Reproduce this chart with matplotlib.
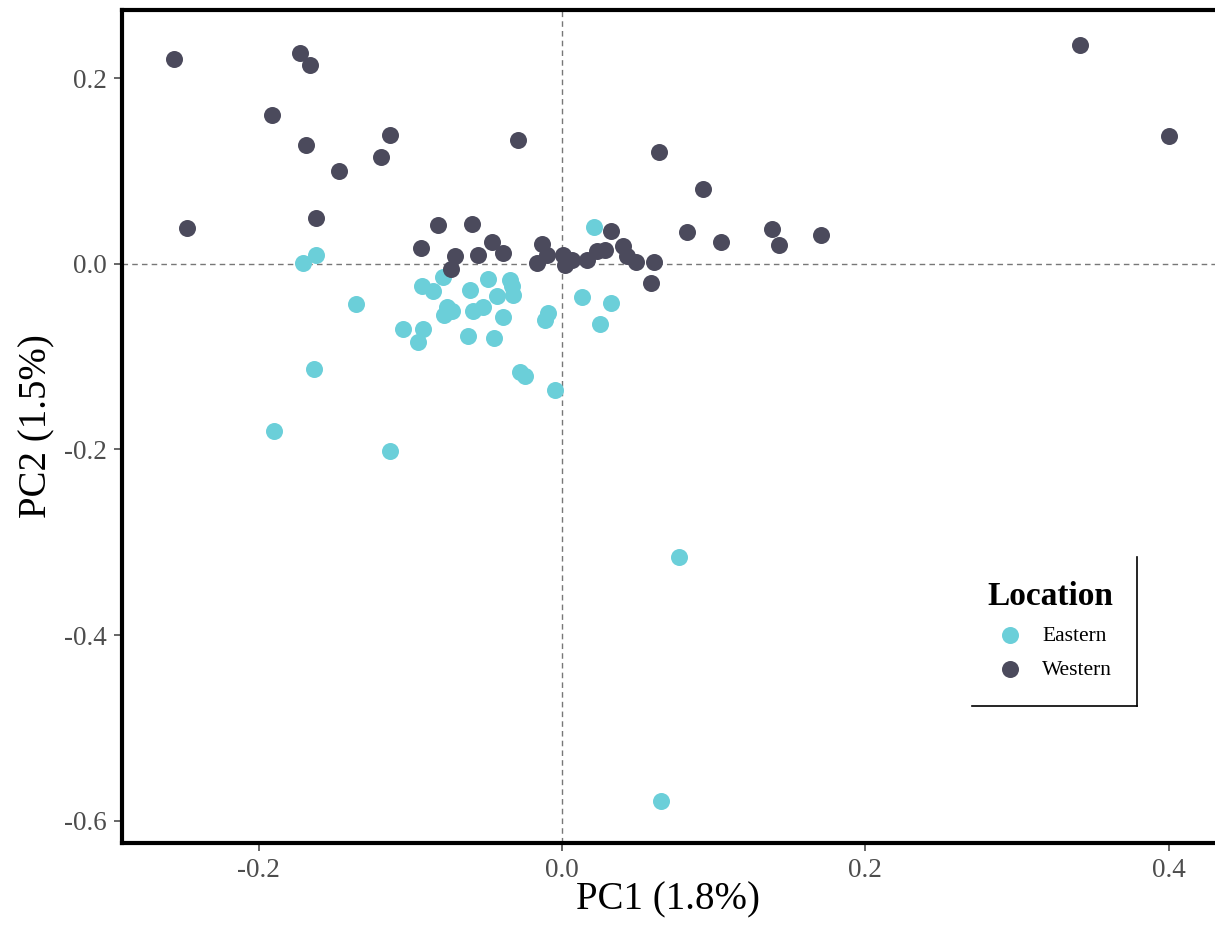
import matplotlib.pyplot as plt
from matplotlib.lines import Line2D

plt.rcParams["font.family"] = ["Liberation Serif", "DejaVu Serif"]

# PCA scores
western_pc1 = [-0.256, -0.1727, -0.166, -0.191, -0.169, -0.1134, -0.119, -0.147, -0.0288,
               -0.247, -0.1624, 0.3415, 0.400, 0.064, 0.0927, 0.0826, 0.1048, 0.1382, 0.143,
               0.1707, -0.082, -0.0595, -0.093, -0.0705, -0.073, -0.0556, -0.0463, -0.039,
               -0.0134, -0.010, -0.0167, 0.0009, 0.002, 0.0064, 0.0163, 0.0229, 0.0283,
               0.0323, 0.0404, 0.0426, 0.049, 0.061, 0.0585]
western_pc2 = [0.2205, 0.227, 0.2144, 0.160, 0.1275, 0.139, 0.1156, 0.1005, 0.1329,
               0.0385, 0.0492, 0.236, 0.138, 0.1204, 0.081, 0.034, 0.0234, 0.0374, 0.0205,
               0.031, 0.042, 0.043, 0.017, 0.0086, -0.0057, 0.0097, 0.024, 0.0115,
               0.0216, 0.0097, 0.0007, 0.0097, -0.001, 0.0043, 0.0043, 0.0133, 0.015,
               0.0356, 0.0187, 0.0079, 0.0025, 0.0025, -0.021]

eastern_pc1 = [0.0213, -0.162, -0.171, -0.1358, -0.0925, -0.0848, -0.0787, -0.076, -0.0727,
               -0.078, -0.105, -0.0914, -0.0947, -0.0606, -0.049, -0.0343, -0.033, -0.0325,
               -0.043, -0.052, -0.0585, -0.039, -0.062, -0.0448, -0.009, -0.0112, 0.013,
               0.0323, 0.025, -0.0277, -0.0244, -0.0046, -0.1635, -0.1896, -0.1134, 0.0771,
               0.065]
eastern_pc2 = [0.040, 0.0097, 0.0014, -0.043, -0.0244, -0.0298, -0.0143, -0.046, -0.051,
               -0.055, -0.070, -0.070, -0.0837, -0.028, -0.016, -0.0172, -0.0244, -0.0334,
               -0.035, -0.046, -0.051, -0.0568, -0.078, -0.080, -0.053, -0.060, -0.036,
               -0.0417, -0.0647, -0.117, -0.121, -0.136, -0.113, -0.180, -0.2015, -0.316,
               -0.579]

x_ticks = [-0.2, 0.0, 0.2, 0.4]
y_ticks = [0.2, 0.0, -0.2, -0.4, -0.6]

EAST_COLOR = "#6BCFD9"
WEST_COLOR = "#4B4A5C"

fig = plt.figure(figsize=(12.15, 9.32), dpi=100)
ax = fig.add_axes([0.1004, 0.0955, 0.8996, 0.894])

ax.axhline(0, color="#777777", lw=1, ls=(0, (4, 3)), zorder=1)
ax.axvline(0, color="#777777", lw=1, ls=(0, (4, 3)), zorder=1)

ax.scatter(eastern_pc1, eastern_pc2, s=150, color=EAST_COLOR, label="Eastern", zorder=3, lw=0)
ax.scatter(western_pc1, western_pc2, s=150, color=WEST_COLOR, label="Western", zorder=3, lw=0)

ax.set_xlim(-0.290, 0.4305)
ax.set_ylim(-0.624, 0.2737)
ax.set_xticks(x_ticks)
ax.set_xticklabels([f"{v:.1f}" for v in x_ticks])
ax.set_yticks(y_ticks)
ax.set_yticklabels([f"{v:.1f}" for v in y_ticks])
ax.tick_params(labelsize=19.5, colors="#4D4D4D", length=6, width=1.2, pad=5)

for side in ["left", "top", "bottom"]:
    ax.spines[side].set_linewidth(3)
    ax.spines[side].set_color("black")
ax.spines["right"].set_visible(False)

ax.set_xlabel("PC1 (1.8%)", fontsize=28, labelpad=-1)
ax.set_ylabel("PC2 (1.5%)", fontsize=28, labelpad=6)

leg = ax.legend(title="Location", loc="upper left", bbox_to_anchor=(0.774, 0.338),
                frameon=False, fontsize=15.5, markerscale=1.0, handletextpad=0.5,
                labelspacing=0.65, title_fontproperties={"weight": "bold", "size": 24})

# partial legend frame (right and bottom edges only)
fig.add_artist(Line2D([1137 / 1215, 1137 / 1215], [1 - 557 / 932, 1 - 706 / 932],
                      color="black", lw=1.2))
fig.add_artist(Line2D([972 / 1215, 1137 / 1215], [1 - 706 / 932, 1 - 706 / 932],
                      color="black", lw=1.2))

fig.savefig("out.png", dpi=100)
